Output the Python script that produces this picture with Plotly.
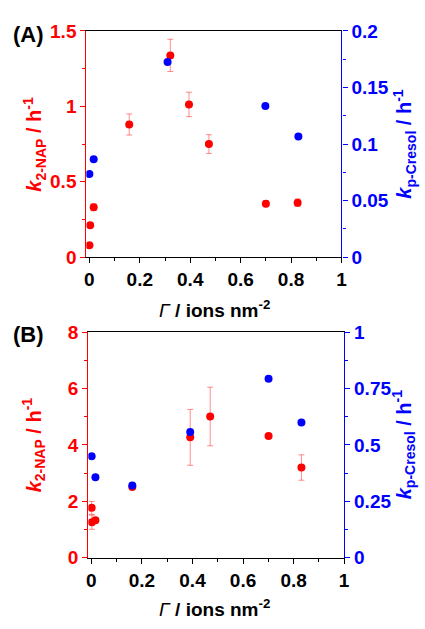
import plotly.graph_objects as go

# Panel (A): surface density vs. rate constants
gamma_a_nap = [0.0, 0.003, 0.017, 0.158, 0.321, 0.395, 0.474, 0.700, 0.826]
k_a_nap = [0.079, 0.211, 0.331, 0.880, 1.338, 1.013, 0.750, 0.355, 0.361]
err_a_nap = [0.0, 0.0, 0.022, 0.070, 0.107, 0.081, 0.062, 0.020, 0.025]
gamma_a_cre = [0.0, 0.017, 0.310, 0.698, 0.829]
k_a_cre = [0.0735, 0.0866, 0.1726, 0.1336, 0.1068]

# Panel (B)
gamma_b_nap = [0.001, 0.002, 0.016, 0.162, 0.391, 0.470, 0.701, 0.831]
k_b_nap = [1.77, 1.26, 1.33, 2.51, 4.27, 5.01, 4.32, 3.20]
err_b_nap = [0.23, 0.25, 0.05, 0.05, 0.99, 1.04, 0.05, 0.45]
gamma_b_cre = [0.001, 0.016, 0.162, 0.391, 0.701, 0.831]
k_b_cre = [0.450, 0.357, 0.320, 0.557, 0.793, 0.600]

W, H = 425, 629
RED = "#ff0000"
BLUE = "#0000ff"
FONT = "Liberation Sans, Arial, sans-serif"

fig = go.Figure()

def add_panel(gx_c, k_c, gx_n, k_n, err_n, xa, ya_left, ya_right):
    fig.add_trace(go.Scatter(
        x=gx_c, y=k_c, mode="markers", xaxis=xa, yaxis=ya_right,
        marker=dict(color=BLUE, size=8), showlegend=False))
    fig.add_trace(go.Scatter(
        x=gx_n, y=k_n, mode="markers", xaxis=xa, yaxis=ya_left,
        marker=dict(color=RED, size=8),
        error_y=dict(type="data", array=err_n, visible=True,
                     color="rgba(255,0,0,0.45)", thickness=1, width=3),
        showlegend=False))

add_panel(gamma_a_cre, k_a_cre, gamma_a_nap, k_a_nap, err_a_nap, "x", "y", "y2")
add_panel(gamma_b_cre, k_b_cre, gamma_b_nap, k_b_nap, err_b_nap, "x2", "y3", "y4")

def xaxis_style(domain, anchor):
    return dict(
        domain=domain, anchor=anchor, range=[-0.012, 1], dtick=0.2,
        tick0=0, showgrid=False, zeroline=False,
        showline=True, linecolor="#000000", linewidth=1.2, mirror=True,
        ticks="outside", ticklen=5, tickwidth=1.2, tickcolor="#000000",
        minor=dict(dtick=0.1, ticks="outside", ticklen=3, tickcolor="#000000"),
        tickfont=dict(family=FONT, size=19, color="#000000", weight="bold"),
    )

def yaxis_style(domain, anchor, rng, dtick, color, side, overlaying=None):
    d = dict(
        anchor=anchor, range=rng, dtick=dtick, tick0=0, side=side,
        showgrid=False, zeroline=False,
        showline=True, linecolor=color, linewidth=1.2,
        ticks="outside", ticklen=5, tickwidth=1.2, tickcolor=color,
        minor=dict(dtick=dtick / 2, ticks="outside", ticklen=3, tickcolor=color),
        tickfont=dict(family=FONT, size=19, color=color, weight="bold"),
    )
    if overlaying:
        d["overlaying"] = overlaying
    else:
        d["domain"] = domain
    return d

dom_xa = [86 / W, 346 / W]
dom_ya = [1 - 255.7 / H, 1 - 21.7 / H]
dom_xb = [88 / W, 348.7 / W]
dom_yb = [1 - 566.7 / H, 1 - 333.3 / H]

fig.update_layout(
    width=W, height=H,
    margin=dict(l=0, r=0, t=0, b=0),
    paper_bgcolor="white", plot_bgcolor="white",
    xaxis=xaxis_style(dom_xa, "y"),
    yaxis=yaxis_style(dom_ya, "x", [0, 1.5], 0.5, RED, "left"),
    yaxis2=yaxis_style(None, "x", [0, 0.2], 0.05, BLUE, "right", overlaying="y"),
    xaxis2=xaxis_style(dom_xb, "y3"),
    yaxis3=yaxis_style(dom_yb, "x2", [0, 8], 2, RED, "left"),
    yaxis4=yaxis_style(None, "x2", [0, 1], 0.25, BLUE, "right", overlaying="y3"),
)

title_left = "<b><i>k</i><sub>2-NAP</sub> / h<sup>-1</sup></b>"
title_right = "<b><i>k</i><sub>p-Cresol</sub> / h<sup>-1</sup></b>"
title_x = "<i>Γ</i><b> / ions nm<sup>-2</sup></b>"

def ann(text, px, py, color, size, angle=0):
    fig.add_annotation(
        text=text, x=px / W, y=1 - py / H, xref="paper", yref="paper",
        xanchor="center", yanchor="middle", showarrow=False, textangle=angle,
        font=dict(family=FONT, size=size, color=color))

for (panel_label, py_label, py_mid, py_xt) in [("(A)", 25, 139, 309), ("(B)", 336, 450, 619)]:
    ann("<b>" + panel_label + "</b>", 27, py_label, "#000000", 22)
    ann(title_left, 33, py_mid, RED, 20, -90)
    ann(title_right, 410, py_mid, BLUE, 20, -90)
    ann(title_x, 217, py_xt, "#000000", 19)

fig.write_html("out.html")
